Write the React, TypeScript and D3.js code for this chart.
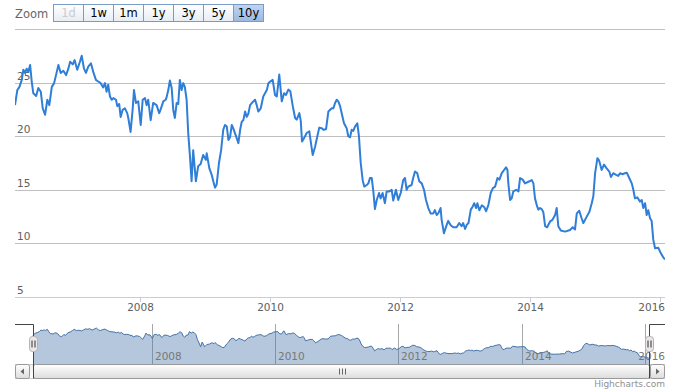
import React from 'react';
import * as d3 from 'd3';

// Daily-close style series (date, value)
const series: [string, number][] = [
  ["2006-01-28", 22.9], ["2006-02-10", 24.3], ["2006-02-22", 24.6], ["2006-03-07", 25.25], ["2006-03-16", 26.2],
  ["2006-03-26", 25.9], ["2006-04-04", 26.3], ["2006-04-13", 26.0], ["2006-04-23", 26.65], ["2006-05-02", 25.1],
  ["2006-05-11", 24.0], ["2006-05-27", 23.75], ["2006-06-08", 24.5], ["2006-06-22", 24.15], ["2006-07-03", 22.6],
  ["2006-07-16", 22.0], ["2006-07-29", 23.4], ["2006-08-09", 22.9], ["2006-08-23", 24.6], ["2006-09-05", 24.95],
  ["2006-09-20", 26.0], ["2006-09-29", 26.65], ["2006-10-12", 25.9], ["2006-10-27", 26.1], ["2006-11-11", 25.7],
  ["2006-11-24", 26.3], ["2006-12-04", 26.95], ["2006-12-19", 26.7], ["2006-12-29", 27.1],
  ["2007-01-13", 26.2], ["2007-01-28", 26.95], ["2007-02-07", 27.5], ["2007-02-20", 26.3], ["2007-03-03", 25.9],
  ["2007-03-16", 26.5], ["2007-03-31", 26.8], ["2007-04-13", 26.0], ["2007-04-28", 25.25], ["2007-05-11", 25.1],
  ["2007-05-25", 24.95], ["2007-06-08", 24.55], ["2007-06-18", 24.95], ["2007-06-27", 24.15], ["2007-07-06", 24.8],
  ["2007-07-16", 23.7], ["2007-07-26", 23.4], ["2007-08-04", 23.55], ["2007-08-19", 23.4], ["2007-08-26", 22.8],
  ["2007-09-06", 23.0], ["2007-09-14", 21.8], ["2007-09-25", 22.45], ["2007-10-08", 22.6], ["2007-10-21", 22.15],
  ["2007-10-27", 21.7], ["2007-11-09", 20.4], ["2007-11-21", 22.6], ["2007-11-28", 24.3], ["2007-12-09", 23.1],
  ["2007-12-22", 23.25],
  ["2008-01-05", 21.05], ["2008-01-16", 23.4], ["2008-01-29", 23.55], ["2008-02-07", 22.9], ["2008-02-16", 23.4],
  ["2008-03-01", 21.5], ["2008-03-15", 23.1], ["2008-04-03", 22.9], ["2008-04-18", 22.15], ["2008-04-26", 22.5],
  ["2008-05-11", 23.25], ["2008-05-24", 23.4], ["2008-05-29", 23.6], ["2008-06-08", 24.3], ["2008-06-17", 25.2],
  ["2008-06-27", 24.5], ["2008-07-06", 22.45], ["2008-07-15", 21.7], ["2008-07-25", 23.1], ["2008-08-03", 23.0],
  ["2008-08-12", 25.25], ["2008-08-22", 24.3], ["2008-08-31", 24.95], ["2008-09-09", 24.6], ["2008-09-19", 23.4],
  ["2008-09-28", 20.3], ["2008-10-08", 18.1], ["2008-10-17", 15.8], ["2008-10-26", 18.7], ["2008-11-10", 15.8],
  ["2008-11-23", 17.2], ["2008-12-07", 17.4], ["2008-12-21", 18.25],
  ["2009-01-05", 17.8], ["2009-01-10", 18.4], ["2009-01-25", 17.0], ["2009-02-07", 16.4], ["2009-02-16", 15.8],
  ["2009-02-26", 15.2], ["2009-03-07", 15.5], ["2009-03-20", 17.5], ["2009-04-01", 18.7], ["2009-04-13", 20.6],
  ["2009-04-23", 21.05], ["2009-05-03", 20.9], ["2009-05-12", 19.65], ["2009-05-21", 19.9], ["2009-05-31", 21.05],
  ["2009-06-09", 20.7], ["2009-06-28", 19.8], ["2009-07-07", 19.35], ["2009-07-17", 20.6], ["2009-07-26", 21.35],
  ["2009-08-04", 21.5], ["2009-08-14", 22.3], ["2009-08-23", 21.8], ["2009-09-01", 22.1], ["2009-09-11", 22.9],
  ["2009-09-26", 23.2], ["2009-10-09", 23.4], ["2009-10-18", 22.9], ["2009-10-27", 22.3], ["2009-11-10", 22.6],
  ["2009-11-24", 23.7], ["2009-12-14", 24.3], ["2009-12-23", 24.95],
  ["2010-01-02", 25.1], ["2010-01-16", 25.25], ["2010-01-29", 23.85], ["2010-02-08", 23.7], ["2010-02-22", 25.75],
  ["2010-03-08", 23.25], ["2010-03-21", 24.0], ["2010-04-01", 23.85], ["2010-04-14", 24.35], ["2010-04-25", 24.2],
  ["2010-05-09", 22.8], ["2010-05-22", 21.7], ["2010-05-31", 21.55], ["2010-06-15", 22.15], ["2010-06-23", 21.4],
  ["2010-06-30", 19.5], ["2010-07-11", 19.8], ["2010-07-26", 20.3], ["2010-08-10", 20.45], ["2010-08-18", 19.5],
  ["2010-08-29", 18.25], ["2010-09-11", 19.0], ["2010-09-24", 20.0], ["2010-10-05", 20.8], ["2010-10-19", 20.75],
  ["2010-10-28", 20.6], ["2010-11-12", 20.65], ["2010-11-25", 22.3], ["2010-12-14", 22.6], ["2010-12-23", 22.6],
  ["2011-01-02", 23.1], ["2011-01-11", 23.4], ["2011-01-20", 23.25], ["2011-01-30", 22.8], ["2011-02-08", 22.15],
  ["2011-02-21", 21.2], ["2011-03-08", 20.75], ["2011-03-17", 20.0], ["2011-03-27", 19.9], ["2011-04-05", 20.6],
  ["2011-04-14", 20.5], ["2011-04-24", 20.9], ["2011-05-07", 21.2], ["2011-05-16", 20.0], ["2011-05-26", 17.5],
  ["2011-06-06", 15.9], ["2011-06-15", 15.3], ["2011-06-29", 15.45], ["2011-07-08", 15.6], ["2011-07-17", 16.1],
  ["2011-07-27", 16.1], ["2011-08-05", 14.85], ["2011-08-14", 13.2], ["2011-08-24", 14.05], ["2011-09-06", 14.7],
  ["2011-09-15", 14.2], ["2011-09-26", 14.7], ["2011-10-09", 13.75], ["2011-10-19", 14.85], ["2011-11-03", 14.85],
  ["2011-11-16", 15.0], ["2011-11-25", 14.0], ["2011-12-10", 15.0], ["2011-12-23", 14.05],
  ["2012-01-06", 14.7], ["2012-01-20", 15.9], ["2012-01-30", 16.1], ["2012-02-08", 15.0], ["2012-02-17", 15.3],
  ["2012-03-07", 15.45], ["2012-03-16", 16.1], ["2012-03-26", 16.7], ["2012-04-08", 16.55], ["2012-04-19", 15.8],
  ["2012-05-03", 15.6], ["2012-05-16", 15.0], ["2012-05-27", 14.05], ["2012-06-09", 13.3], ["2012-06-22", 12.8],
  ["2012-07-07", 12.8], ["2012-07-16", 13.1], ["2012-07-26", 12.65], ["2012-08-04", 12.8], ["2012-08-17", 13.3],
  ["2012-08-23", 12.2], ["2012-09-05", 10.95], ["2012-09-20", 11.7], ["2012-09-29", 12.1], ["2012-10-13", 11.7],
  ["2012-10-27", 11.5], ["2012-11-15", 11.5], ["2012-11-30", 11.9], ["2012-12-13", 11.6], ["2012-12-22", 11.9],
  ["2013-01-02", 11.35], ["2013-01-12", 11.75], ["2013-01-21", 11.9], ["2013-02-03", 13.15], ["2013-02-14", 13.45],
  ["2013-02-22", 13.75], ["2013-03-05", 13.3], ["2013-03-12", 13.75], ["2013-03-23", 13.1], ["2013-04-06", 13.55],
  ["2013-04-19", 13.4], ["2013-04-30", 13.0], ["2013-05-13", 13.6], ["2013-05-26", 14.7], ["2013-06-07", 15.15],
  ["2013-06-20", 15.3], ["2013-07-03", 16.1], ["2013-07-14", 15.95], ["2013-07-27", 16.55], ["2013-08-09", 16.85],
  ["2013-08-20", 17.1], ["2013-08-28", 16.85], ["2013-09-02", 15.6], ["2013-09-12", 14.05], ["2013-09-21", 14.2],
  ["2013-09-30", 14.85], ["2013-10-16", 15.0], ["2013-10-29", 14.85], ["2013-11-07", 16.1], ["2013-11-22", 15.95],
  ["2013-12-05", 15.6], ["2013-12-24", 15.75],
  ["2014-01-12", 15.9], ["2014-01-21", 15.6], ["2014-01-30", 14.2], ["2014-02-11", 13.45], ["2014-02-18", 13.15],
  ["2014-02-27", 13.3], ["2014-03-09", 13.2], ["2014-03-18", 12.9], ["2014-03-28", 11.6], ["2014-04-08", 11.5],
  ["2014-04-25", 12.05], ["2014-05-08", 12.2], ["2014-05-23", 12.65], ["2014-06-01", 13.3], ["2014-06-10", 11.6],
  ["2014-06-24", 11.2], ["2014-07-18", 11.1], ["2014-08-15", 11.25], ["2014-08-30", 11.5], ["2014-09-12", 11.3],
  ["2014-09-22", 12.8], ["2014-10-06", 13.05], ["2014-10-20", 12.3], ["2014-10-29", 11.9], ["2014-11-17", 12.5],
  ["2014-12-02", 12.95], ["2014-12-15", 13.75], ["2014-12-24", 14.4],
  ["2015-01-03", 16.55], ["2015-01-16", 17.95], ["2015-01-25", 17.75], ["2015-02-09", 16.85], ["2015-02-22", 17.35],
  ["2015-03-09", 17.0], ["2015-03-24", 16.7], ["2015-04-02", 16.2], ["2015-04-15", 16.55], ["2015-05-01", 16.4],
  ["2015-05-13", 16.3], ["2015-05-23", 16.55], ["2015-06-07", 16.45], ["2015-06-20", 16.55], ["2015-06-30", 16.6],
  ["2015-07-14", 16.1], ["2015-07-28", 15.6], ["2015-08-06", 15.0], ["2015-08-15", 14.2], ["2015-08-28", 14.3],
  ["2015-09-12", 13.9], ["2015-09-22", 14.05], ["2015-10-01", 13.3], ["2015-10-11", 13.75], ["2015-10-20", 12.65],
  ["2015-10-29", 13.1], ["2015-11-08", 12.35], ["2015-11-17", 12.1], ["2015-11-26", 10.35], ["2015-12-06", 9.55],
  ["2015-12-24", 9.6],
  ["2016-01-07", 9.1], ["2016-01-21", 8.7], ["2016-01-31", 8.5],
];

const yTickValues = [5, 10, 15, 20, 25, 30];
const yDomain: [number, number] = [5, 30];
const zoomButtons = ['1d', '1w', '1m', '1y', '3y', '5y', '10y'];
const selectedButton = '10y';
const disabledButtons = ['1d'];
const creditText = 'Highcharts.com';

const W = 673;
const H = 391;
const plot = { left: 15, right: 665, top: 29, bottom: 297 };
const nav = { left: 33, right: 650, top: 324, bottom: 364 };
const sb = { top: 364.5, height: 14 };
const FONT = '"DejaVu Sans", Verdana, Arial, sans-serif';

type Pt = { date: Date; value: number };

export default function App() {
  const parse = d3.timeParse('%Y-%m-%d');
  const data: Pt[] = series.map(([d, v]) => ({ date: parse(d) as Date, value: v }));
  const extent = d3.extent(data, (d) => d.date) as [Date, Date];

  const x = d3.scaleTime().domain(extent).range([plot.left, plot.right]);
  const y = d3.scaleLinear().domain(yDomain).range([plot.bottom, plot.top]);
  const xn = d3.scaleTime().domain(extent).range([nav.left, nav.right]);
  const yn = d3.scaleLinear().domain(yDomain).range([nav.bottom, nav.top]);

  const line = d3.line<Pt>().x((d) => x(d.date)).y((d) => y(d.value));
  const navArea = d3.area<Pt>().x((d) => xn(d.date)).y0(nav.bottom).y1((d) => yn(d.value));
  const navLine = d3.line<Pt>().x((d) => xn(d.date)).y((d) => yn(d.value));

  const xTicks = x.ticks(d3.timeYear.every(2) as d3.TimeInterval);
  const navTicks = xn.ticks(d3.timeYear.every(2) as d3.TimeInterval);
  const fmt = d3.timeFormat('%Y');

  const btnX0 = 53.5;
  const btnW = 30;
  const btnY = 4.5;
  const btnH = 17;

  const sbMid = (nav.left + nav.right) / 2;

  const handle = (cx: number) => {
    const hy = (nav.top + nav.bottom) / 2 - 7.5;
    return (
      <g key={cx}>
        <rect x={cx - 4} y={hy} width={8} height={15} rx={3} ry={3} fill="#ebe7e8" stroke="#b2b1b6" strokeWidth={1} />
        <line x1={cx - 1.5} x2={cx - 1.5} y1={hy + 4} y2={hy + 11} stroke="#333" strokeWidth={1} />
        <line x1={cx + 1.5} x2={cx + 1.5} y1={hy + 4} y2={hy + 11} stroke="#333" strokeWidth={1} />
      </g>
    );
  };

  return (
    <svg
      width={W}
      height={H}
      style={{ position: 'fixed', left: 0, top: 0, background: '#fff' }}
      fontFamily={FONT}
    >
      <defs>
        <clipPath id="plotClip">
          <rect x={plot.left} y={plot.top} width={plot.right - plot.left} height={plot.bottom - plot.top} />
        </clipPath>
        <linearGradient id="btnGrad" x1="0" y1="0" x2="0" y2="1">
          <stop offset="0" stopColor="#ffffff" />
          <stop offset="1" stopColor="#e6edf5" />
        </linearGradient>
        <linearGradient id="btnSel" x1="0" y1="0" x2="0" y2="1">
          <stop offset="0" stopColor="#c3d5ef" />
          <stop offset="1" stopColor="#9ab8e2" />
        </linearGradient>
        <linearGradient id="barGrad" x1="0" y1="0" x2="0" y2="1">
          <stop offset="0" stopColor="#ffffff" />
          <stop offset="1" stopColor="#dcdcdc" />
        </linearGradient>
        <linearGradient id="trackGrad" x1="0" y1="0" x2="0" y2="1">
          <stop offset="0" stopColor="#eeeeee" />
          <stop offset="1" stopColor="#ffffff" />
        </linearGradient>
      </defs>

      {/* Range selector */}
      <text x={15} y={17.5} fontSize={11.5} fill="#666">Zoom</text>
      {zoomButtons.map((b, i) => {
        const bx = btnX0 + i * btnW;
        const sel = b === selectedButton;
        const dis = disabledButtons.includes(b);
        return (
          <g key={b}>
            <rect x={bx} y={btnY} width={btnW} height={btnH} fill={sel ? 'url(#btnSel)' : 'url(#btnGrad)'} stroke="#7a9cc4" strokeWidth={1} />
            <text x={bx + btnW / 2} y={btnY + 12.5} textAnchor="middle" fontSize={11.5} fill={dis ? '#cccccc' : '#000'}>{b}</text>
          </g>
        );
      })}

      {/* Grid lines */}
      {yTickValues.map((t) => (
        <line key={t} x1={plot.left} x2={plot.right} y1={Math.round(y(t)) + 0.5} y2={Math.round(y(t)) + 0.5} stroke="#c0c0c0" strokeWidth={1} />
      ))}
      {/* Y labels (last one hidden, as in Highstock) */}
      {yTickValues.slice(0, -1).map((t) => (
        <text key={t} x={17} y={Math.round(y(t)) - 3} fontSize={10.5} fill="#606060">{t}</text>
      ))}

      {/* X axis */}
      <line x1={plot.left} x2={plot.right} y1={plot.bottom + 0.5} y2={plot.bottom + 0.5} stroke="#c0d0e0" strokeWidth={1} />
      {xTicks.map((t) => {
        const tx = Math.round(x(t)) + 0.5;
        const over = tx + 14 > plot.right;
        return (
          <g key={+t}>
            <line x1={tx} x2={tx} y1={plot.bottom} y2={plot.bottom + 5} stroke="#c0d0e0" strokeWidth={1} />
            <text x={over ? plot.right : tx} y={311} textAnchor={over ? 'end' : 'middle'} fontSize={10.5} fill="#606060">{fmt(t)}</text>
          </g>
        );
      })}

      {/* Main series */}
      <path d={line(data) || ''} fill="none" stroke="#2f7ed8" strokeWidth={2} strokeLinejoin="round" clipPath="url(#plotClip)" />

      {/* Navigator */}
      {navTicks.map((t) => {
        const tx = Math.round(xn(t)) + 0.5;
        return <line key={+t} x1={tx} x2={tx} y1={nav.top} y2={nav.bottom} stroke="#a8a8a8" strokeWidth={1} />;
      })}
      <path d={navArea(data) || ''} fill="rgba(69,114,167,0.4)" stroke="none" />
      <path d={navLine(data) || ''} fill="none" stroke="#4572a7" strokeWidth={1} />
      {navTicks.map((t) => {
        const tx = Math.round(xn(t));
        const over = tx + 3 + 27 > plot.right;
        return (
          <text key={+t} x={over ? plot.right : tx + 3} y={nav.bottom - 4} textAnchor={over ? 'end' : 'start'} fontSize={10.5} fill="#777">{fmt(t)}</text>
        );
      })}

      {/* Scrollbar */}
      <rect x={plot.left + 0.5} y={sb.top} width={plot.right - plot.left - 1} height={sb.height} fill="url(#trackGrad)" stroke="#cccccc" strokeWidth={1} />
      <rect x={nav.left + 0.5} y={sb.top} width={nav.right - nav.left - 1} height={sb.height} rx={2} fill="url(#barGrad)" stroke="#999" strokeWidth={1} />
      {[-3, 0, 3].map((o) => (
        <line key={o} x1={Math.round(sbMid) + o + 0.5} x2={Math.round(sbMid) + o + 0.5} y1={sb.top + 4} y2={sb.top + 10} stroke="#666" strokeWidth={1} />
      ))}
      {/* buttons */}
      <rect x={plot.left + 0.5} y={sb.top} width={sb.height} height={sb.height} rx={2} fill="url(#barGrad)" stroke="#999" strokeWidth={1} />
      <path d={`M${plot.left + 9} ${sb.top + 4} L${plot.left + 9} ${sb.top + 10} L${plot.left + 5.5} ${sb.top + 7} Z`} fill="#666" />
      <rect x={plot.right - sb.height - 0.5} y={sb.top} width={sb.height} height={sb.height} rx={2} fill="url(#barGrad)" stroke="#999" strokeWidth={1} />
      <path d={`M${plot.right - 9} ${sb.top + 4} L${plot.right - 9} ${sb.top + 10} L${plot.right - 5.5} ${sb.top + 7} Z`} fill="#666" />

      {/* Navigator outline */}
      <path
        d={`M${plot.left} ${nav.top + 0.5} L${nav.left + 0.5} ${nav.top + 0.5} L${nav.left + 0.5} ${sb.top + sb.height} M${nav.right - 0.5} ${sb.top + sb.height} L${nav.right - 0.5} ${nav.top + 0.5} L${plot.right} ${nav.top + 0.5}`}
        fill="none"
        stroke="#444"
        strokeWidth={1}
      />
      {handle(nav.left + 0.5)}
      {handle(nav.right - 0.5)}

      {/* Credits */}
      <text x={plot.right} y={387} textAnchor="end" fontSize={9} fill="#909090">{creditText}</text>
    </svg>
  );
}
